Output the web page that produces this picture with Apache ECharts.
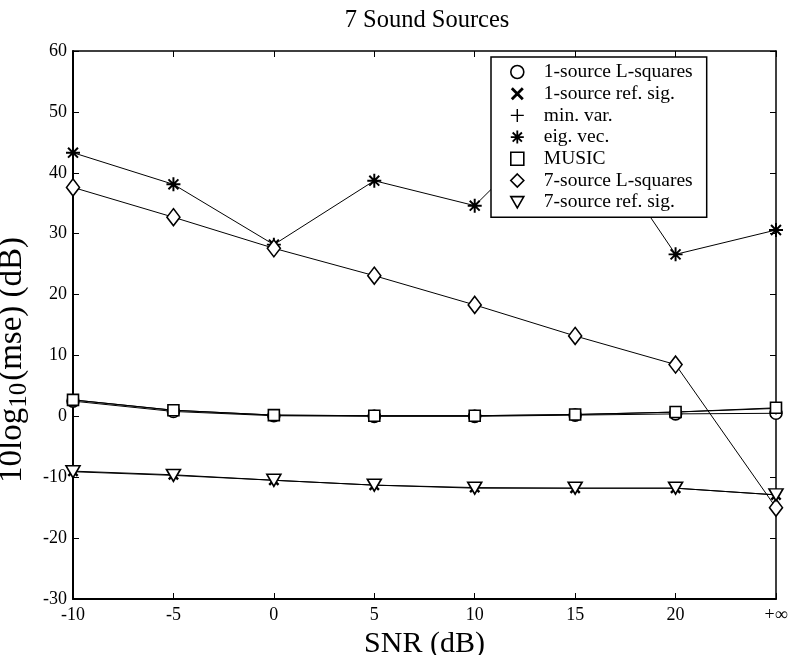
<!DOCTYPE html>
<html>
<head>
<meta charset="utf-8">
<script src="https://cdn.jsdelivr.net/npm/echarts@6/dist/echarts.min.js"></script>
<style>
  html, body { margin: 0; padding: 0; background: #fff; }
  #chart { width: 799px; height: 655px; }
</style>
</head>
<body>
<div id="chart"></div>
<script>
// SNR categories
var snr = ['-10', '-5', '0', '5', '10', '15', '20', '+\u221e'];
var yTicks = [-30, 60, 10];   // min, max, interval

// (dB)
var ls1   = [2.5, 0.8, 0.1, 0.0, 0.0, 0.2, 0.4, 0.5];
var ref1  = [-9.0, -9.6, -10.5, -11.3, -11.7, -11.8, -11.8, -12.9];
var minv  = [2.7, 1.0, 0.2, 0.1, 0.1, 0.3, 0.7, 1.3];
var eig   = [43.3, 38.1, 28.2, 38.7, 34.6, 51.0, 26.6, 30.6];
var music = [2.7, 1.0, 0.2, 0.1, 0.1, 0.3, 0.7, 1.4];
var ls7   = [37.6, 32.7, 27.6, 23.1, 18.3, 13.2, 8.5, -15.0];
var ref7  = [-9.1, -9.7, -10.5, -11.3, -11.8, -11.8, -11.8, -12.9];

var serif = 'Liberation Serif, Times New Roman, serif';

// marker shapes
var pPlus  = 'path://M0,8.9H20V11.1H0ZM8.9,0H11.1V20H8.9Z';
var pCross = 'path://M4.2,1.6L18.4,15.8L15.8,18.4L1.6,4.2ZM18.4,4.2L4.2,18.4L1.6,15.8L15.8,1.6Z';
var pStar  = 'path://M0,8.6H20V11.4H0ZM8.6,0H11.4V20H8.6Z' +
             'M3.9,1.9L18.1,16.1L16.1,18.1L1.9,3.9ZM18.1,3.9L3.9,18.1L1.9,16.1L16.1,1.9Z';
var pTri   = 'path://M0,0L20,0L10,17.3Z';

var hollow = { color: '#fff', borderColor: '#000', borderWidth: 1.6 };
var solid  = { color: '#000', borderWidth: 0 };

var defs = [
  { name: '1-source L-squares', data: ls1,   symbol: 'circle',  size: 12,       style: hollow },
  { name: '1-source ref. sig.', data: ref1,  symbol: pCross,    size: 11,       style: solid },
  { name: 'min. var.',          data: minv,  symbol: pPlus,     size: 12,       style: solid },
  { name: 'eig. vec.',          data: eig,   symbol: pStar,     size: 14,       style: solid },
  { name: 'MUSIC',              data: music, symbol: 'rect',    size: 11,       style: hollow },
  { name: '7-source L-squares', data: ls7,   symbol: 'diamond', size: [13, 17], style: hollow },
  { name: '7-source ref. sig.', data: ref7,  symbol: pTri,      size: [14, 12], style: hollow }
];

var chart = echarts.init(document.getElementById('chart'));

chart.setOption({
  animation: false,
  backgroundColor: '#fff',
  title: {
    text: '7 Sound Sources',
    left: 422, textAlign: 'center', top: 3,
    textStyle: { fontFamily: serif, fontSize: 24.5, fontWeight: 'normal', color: '#000' }
  },
  legend: {
    orient: 'vertical',
    left: 491, top: 57,
    padding: [5, 14, 5, 19],
    itemWidth: 13, itemHeight: 13, itemGap: 1.7,
    backgroundColor: '#fff',
    borderColor: '#000', borderWidth: 1.5, borderRadius: 0,
    selectedMode: false,
    textStyle: { fontFamily: serif, fontSize: 19.5, lineHeight: 20, color: '#000', padding: [0, 0, 0, 15] },
    data: defs.map(function (d) {
      return { name: d.name, icon: d.symbol, itemStyle: d.style };
    })
  },
  grid: { left: 73, right: 23, top: 51, bottom: 56, outerBoundsMode: 'none' },
  xAxis: [{
    type: 'category',
    data: snr,
    boundaryGap: false,
    name: 'SNR (dB)', nameLocation: 'middle', nameGap: 21,
    nameTextStyle: { fontFamily: serif, fontSize: 30, color: '#000' },
    axisLine: { onZero: false, lineStyle: { color: '#000', width: 2 } },
    axisTick: { inside: true, length: 6, lineStyle: { color: '#000' } },
    axisLabel: { fontFamily: serif, fontSize: 18, color: '#000', margin: 7 },
    splitLine: { show: false }
  }, {
    type: 'category',
    data: snr,
    boundaryGap: false,
    position: 'top',
    axisLine: { onZero: false, lineStyle: { color: '#000', width: 1.5 } },
    axisTick: { inside: true, length: 6, lineStyle: { color: '#000' } },
    axisLabel: { show: false }
  }],
  yAxis: [{
    type: 'value',
    min: yTicks[0], max: yTicks[1], interval: yTicks[2],
    name: '{a|10log}{b|10}{a|(mse) (dB)}',
    nameLocation: 'middle', nameGap: 34,
    nameTextStyle: {
      padding: [0, 70, 0, 0],
      rich: {
        a: { fontFamily: serif, fontSize: 33, color: '#000' },
        b: { fontFamily: serif, fontSize: 25, color: '#000', verticalAlign: 'bottom', padding: [14, 2, 0, 0] }
      }
    },
    axisLine: { show: true, onZero: false, lineStyle: { color: '#000', width: 2 } },
    axisTick: { show: true, inside: true, length: 6, lineStyle: { color: '#000' } },
    axisLabel: { fontFamily: serif, fontSize: 18, color: '#000', margin: 6 },
    splitLine: { show: false }
  }, {
    type: 'value',
    position: 'right',
    min: yTicks[0], max: yTicks[1], interval: yTicks[2],
    axisLine: { show: true, onZero: false, lineStyle: { color: '#000', width: 1.5 } },
    axisTick: { show: true, inside: true, length: 6, lineStyle: { color: '#000' } },
    axisLabel: { show: false },
    splitLine: { show: false }
  }],
  series: defs.map(function (d) {
    return {
      name: d.name,
      type: 'line',
      data: d.data,
      symbol: d.symbol,
      symbolSize: d.size,
      showSymbol: true,
      showAllSymbol: true,
      itemStyle: d.style,
      lineStyle: { color: '#000', width: 1 },
      emphasis: { disabled: true }
    };
  })
});
</script>
</body>
</html>
